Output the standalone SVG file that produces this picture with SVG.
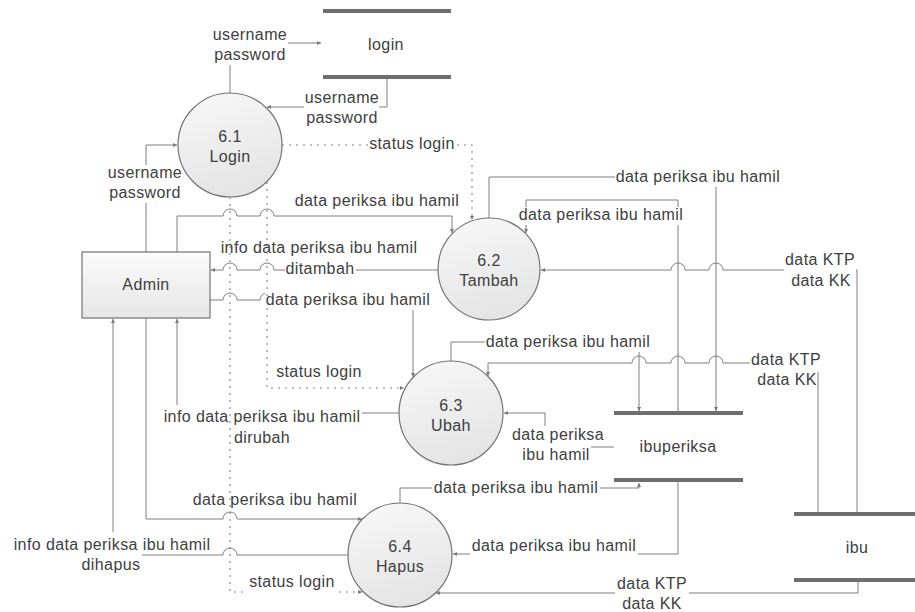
<svg xmlns="http://www.w3.org/2000/svg" width="915" height="612" viewBox="0 0 915 612">
<defs>
<linearGradient id="gc" x1="0" y1="0" x2="0.3" y2="1"><stop offset="0" stop-color="#f8f8f8"/><stop offset="1" stop-color="#e5e5e5"/></linearGradient>
<linearGradient id="gr" x1="0" y1="0" x2="0" y2="1"><stop offset="0" stop-color="#fbfbfb"/><stop offset="1" stop-color="#e6e6e6"/></linearGradient>
<marker id="ah" markerWidth="5" markerHeight="5" refX="4" refY="2.5" orient="auto" markerUnits="userSpaceOnUse"><path d="M0,0.5 L4,2.5 L0,4.5 z" fill="#7a7a7a"/></marker>
</defs>
<style>
text{font-family:"Liberation Sans",Arial,sans-serif;font-size:16px;letter-spacing:0.4px;fill:#404040;text-anchor:middle}
.c{fill:none;stroke:#7f7f7f;stroke-width:1;marker-end:url(#ah)}
.d{fill:none;stroke:#808080;stroke-width:1.1;stroke-dasharray:2 5;marker-end:url(#ah)}
.bg{fill:#fff}
.p{fill:url(#gc);stroke:#747474;stroke-width:1.2}
.r{fill:url(#gr);stroke:#747474;stroke-width:1.2}
.bar{fill:#6e6e6e}
</style>
<rect width="915" height="612" fill="#fff"/>

<g id="connectors">
<path class="c" d="M230,93 V43 H321"/>
<path class="c" d="M387,79 V107 H267"/>
<path class="c" d="M146,252 V145 H177"/>
<path class="c" d="M177,252 V216 H223 A7,7 0 0 1 237,216 H260 A7,7 0 0 1 274,216 H452 V233"/>
<path class="c" d="M438,270 H274 A7,7 0 0 0 260,270 H237 A7,7 0 0 0 223,270 H211"/>
<path class="c" d="M210,300 H223 A7,7 0 0 1 237,300 H260 A7,7 0 0 1 274,300 H413 V377"/>
<path class="c" d="M400,413 H177 V319"/>
<path class="c" d="M146,318 V519 H223 A7,7 0 0 1 237,519 H362"/>
<path class="c" d="M348,555 H237 A7,7 0 0 0 223,555 H142 M113,532 V319"/>
<path class="c" d="M489,218 V177 H716 V411"/>
<path class="c" d="M678,411 V200 H526 V233"/>
<path class="c" d="M451,361 V342 H639 V411"/>
<path class="c" d="M818,512 V363 H723 A7,7 0 0 0 709,363 H685 A7,7 0 0 0 671,363 H646 A7,7 0 0 0 632,363 H488 V376"/>
<path class="c" d="M857,512 V270 H723 A7,7 0 0 0 709,270 H685 A7,7 0 0 0 671,270 H541"/>
<path class="c" d="M614,447 H545 V413 H504"/>
<path class="c" d="M400,503 V488 H639 V483"/>
<path class="c" d="M678,482 V554 H453"/>
<path class="c" d="M858,582 V593 H436"/>

<g id="solid-labels">
<rect class="bg" x="212" y="27" width="76" height="38"/>
<text x="250" y="40">username</text><text x="250" y="60">password</text>
<rect class="bg" x="304" y="90" width="75" height="38"/>
<text x="342" y="103">username</text><text x="342" y="123">password</text>
<rect class="bg" x="107" y="165" width="76" height="38"/>
<text x="145" y="178">username</text><text x="145" y="198">password</text>
<rect class="bg" x="294" y="193" width="167" height="17"/>
<text x="377" y="206">data periksa ibu hamil</text>
<rect class="bg" x="220" y="240" width="199" height="17"/>
<text x="319" y="253">info data periksa ibu hamil</text>
<rect class="bg" x="285" y="261" width="71" height="17"/>
<text x="320" y="274">ditambah</text>
<rect class="bg" x="265" y="292" width="167" height="18"/>
<text x="348" y="305">data periksa ibu hamil</text>
<rect class="bg" x="162" y="405" width="200" height="20"/>
<rect class="bg" x="233" y="428" width="58" height="19"/>
<text x="262" y="422">info data periksa ibu hamil</text>
<text x="262" y="443">dirubah</text>
<rect class="bg" x="192" y="492" width="167" height="17"/>
<text x="275" y="505">data periksa ibu hamil</text>
<text x="112" y="550">info data periksa ibu hamil</text>
<text x="111" y="570">dihapus</text>
<rect class="bg" x="615" y="169" width="167" height="18"/>
<text x="698" y="182">data periksa ibu hamil</text>
<rect class="bg" x="517" y="207" width="168" height="18"/>
<text x="601" y="220">data periksa ibu hamil</text>
<rect class="bg" x="485" y="334" width="167" height="18"/>
<text x="568" y="347">data periksa ibu hamil</text>
<rect class="bg" x="750" y="352" width="72" height="20"/>
<rect class="bg" x="756" y="372" width="61" height="17"/>
<text x="786" y="365">data KTP</text><text x="787" y="385">data KK</text>
<rect class="bg" x="784" y="252" width="72" height="20"/>
<rect class="bg" x="790" y="273" width="62" height="17"/>
<text x="820" y="265">data KTP</text><text x="821" y="286">data KK</text>
<rect class="bg" x="510" y="426" width="96" height="20"/>
<rect class="bg" x="521" y="446" width="70" height="19"/>
<text x="558" y="440">data periksa</text><text x="556" y="460">ibu hamil</text>
<rect class="bg" x="432" y="480" width="168" height="18"/>
<text x="516" y="493">data periksa ibu hamil</text>
<rect class="bg" x="470" y="538" width="168" height="19"/>
<text x="554" y="551">data periksa ibu hamil</text>
<rect class="bg" x="615" y="576" width="74" height="20"/>
<rect class="bg" x="621" y="597" width="63" height="15"/>
<text x="652" y="589">data KTP</text><text x="652" y="609">data KK</text>
</g>

<path class="d" d="M282,145 H472 V220"/>
<path class="d" d="M267,182 V388 H404"/>
<path class="d" d="M230,197 V592 H362"/>
<g id="dotted-labels">
<rect class="bg" x="368" y="136" width="89" height="17"/>
<text x="412" y="149">status login</text>
<rect class="bg" x="275" y="364" width="89" height="17"/>
<text x="319" y="377">status login</text>
<rect class="bg" x="248" y="574" width="89" height="21"/>
<text x="292" y="587">status login</text>
</g>
</g>

<g id="p61"><circle class="p" cx="230" cy="145" r="52"/><text x="230" y="142">6.1</text><text x="230" y="162">Login</text></g>
<g id="p62"><circle class="p" cx="489" cy="269" r="51"/><text x="489" y="266">6.2</text><text x="489" y="286">Tambah</text></g>
<g id="p63"><circle class="p" cx="451" cy="413" r="52"/><text x="451" y="411">6.3</text><text x="451" y="431">Ubah</text></g>
<g id="p64"><circle class="p" cx="400" cy="555" r="52"/><text x="400" y="552">6.4</text><text x="400" y="572">Hapus</text></g>
<g id="admin"><rect class="r" x="82" y="252" width="128" height="66"/><text x="146" y="290">Admin</text></g>
<g id="store-login"><rect class="bar" x="323" y="9" width="128" height="4"/><rect class="bar" x="323" y="75" width="128" height="4"/><text x="386" y="50">login</text></g>
<g id="store-ibuperiksa"><rect class="bar" x="614" y="411" width="129" height="4"/><rect class="bar" x="614" y="478" width="129" height="4"/><text x="678" y="452">ibuperiksa</text></g>
<g id="store-ibu"><rect class="bar" x="794" y="512" width="121" height="4"/><rect class="bar" x="794" y="578" width="121" height="4"/><text x="857" y="553">ibu</text></g>
</svg>
